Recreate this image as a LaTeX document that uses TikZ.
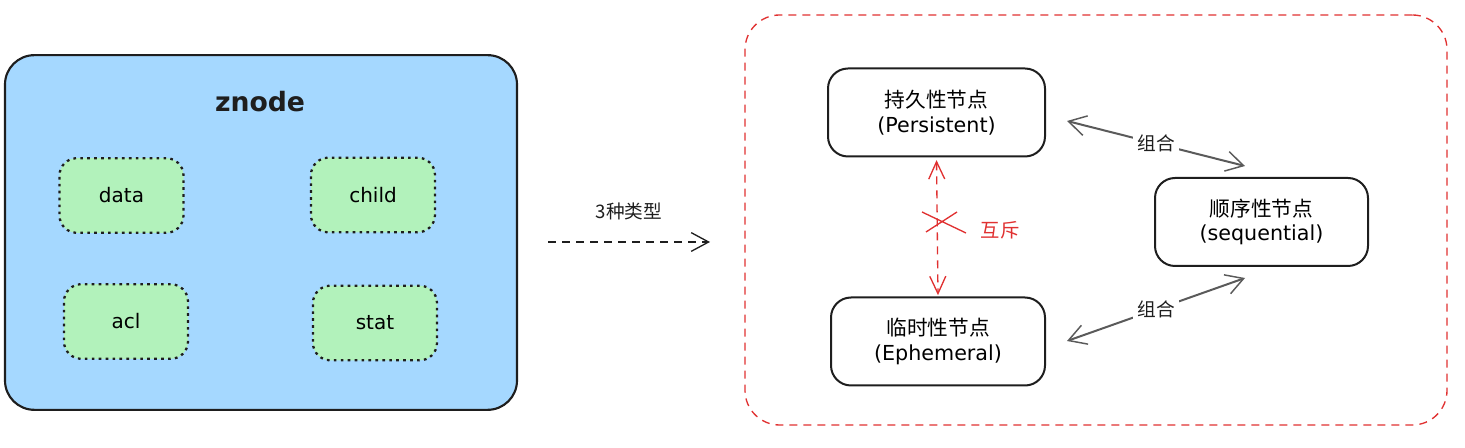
\documentclass[tikz,border=0pt]{standalone}
\usepackage{fontspec}
\setmainfont{DejaVu Sans}
\newfontfamily\cjk{Noto Sans CJK SC}
\usetikzlibrary{arrows.meta}
\definecolor{zblue}{HTML}{A5D8FF}
\definecolor{zgreen}{HTML}{B2F2BB}
\definecolor{zred}{HTML}{E03131}
\definecolor{zgray}{HTML}{5A5A5A}
\definecolor{zink}{HTML}{1E1E1E}
\newcommand{\cjkbig}[1]{{\cjk\fontsize{15.5}{18}\selectfont #1}}
\begin{document}
\begin{tikzpicture}[x=0.75pt,y=-0.75pt,
  bluebox/.style={draw=zink,line width=1.6pt,fill=zblue,rounded corners=22pt,
    minimum width=384pt,minimum height=266pt,inner sep=0pt,outer sep=0pt},
  greenbox/.style={draw=zink,line width=1.7pt,fill=zgreen,rounded corners=13pt,
    dash pattern=on 2pt off 3.2pt,
    minimum width=93pt,minimum height=56pt,inner sep=0pt,
    font=\fontsize{15}{18}\selectfont},
  whitebox/.style={draw=zink,line width=1.5pt,fill=white,rounded corners=15pt,
    minimum height=66pt,inner sep=0pt,align=center,
    font=\fontsize{15.5}{18.5}\selectfont},
  redframe/.style={draw=zred,line width=1pt,dash pattern=on 6pt off 4.5pt,
    rounded corners=26pt,minimum width=526.5pt,minimum height=307.5pt,inner sep=0pt},
  barb/.style={arrows={Straight Barb[length=13pt,width=15pt,line width=1.1pt]-Straight Barb[length=13pt,width=15pt,line width=1.1pt]}},
  graylink/.style={draw=zgray,line width=1.5pt,barb},
  lbl/.style={font=\cjk\fontsize{14}{16}\selectfont,fill=white,inner sep=3pt}
]
\useasboundingbox (0,0) rectangle (1465,448);

% left: znode
\node[bluebox] (blue) at (261,232.5) {};
\node[font=\bfseries\fontsize{20}{24}\selectfont,text=zink] (title) at (260,102) {znode};
\node[greenbox] (data)  at (121.5,195.5) {data};
\node[greenbox] (child) at (373,195) {child};
\node[greenbox] (acl)   at (126,321.5) {acl};
\node[greenbox] (stat)  at (375,323) {stat};

% middle arrow
\coordinate (m1) at (548,242);
\coordinate (m2) at (710,242);
\draw[draw=zink,line width=1pt,dash pattern=on 6pt off 4.5pt,
  -{Straight Barb[length=13pt,width=14pt,line width=1pt]}] (m1) -- (m2)
  node[midway,above=13pt,font=\cjk\fontsize{14}{16}\selectfont,text=zink] (tlabel) {3种类型};

% right frame
\node[redframe] (frame) at (1096,220) {};
\node[whitebox,minimum width=162.75pt] (pers) at (936.5,112.5) {\cjkbig{持久性节点}\\(Persistent)};
\node[whitebox,minimum width=160.5pt] (eph) at (938,341.5) {\cjkbig{临时性节点}\\(Ephemeral)};
\node[whitebox,minimum width=159.75pt] (seq) at (1261.5,222) {\cjkbig{顺序性节点}\\(sequential)};

% mutual exclusion
\draw[draw=zred,line width=1pt,dash pattern=on 6pt off 4.5pt,
  arrows={Straight Barb[length=13pt,width=12pt,line width=1pt]-Straight Barb[length=13pt,width=12pt,line width=1pt]},
  shorten <=2pt,shorten >=1pt] (pers.south) -- (eph.north);
\coordinate (x1) at (922,212);
\coordinate (x2) at (966,233);
\coordinate (x3) at (957,212);
\coordinate (x4) at (926,232);
\draw[draw=zred,line width=1pt] (x1) -- (x2) (x3) -- (x4);
\node[font=\cjk\fontsize{14.5}{16}\selectfont,text=zred] (mx) at (1000,230) {互斥};

% combinations
\coordinate (c1) at (1067,121);
\coordinate (c2) at (1245,166);
\coordinate (c3) at (1067,341);
\coordinate (c4) at (1245,278);
\draw[graylink] (c1) -- (c2) node[midway,lbl,text=zink] (z1) {组合};
\draw[graylink] (c3) -- (c4) node[midway,lbl,text=zink] (z2) {组合};
\end{tikzpicture}
\end{document}
